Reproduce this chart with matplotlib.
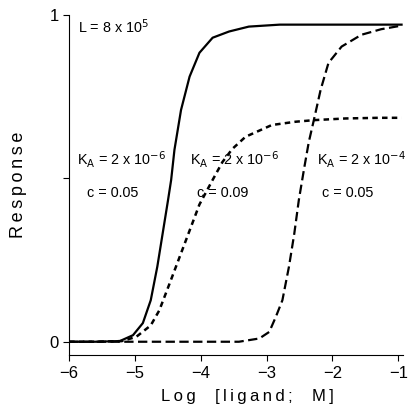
import matplotlib
matplotlib.use("Agg")
import matplotlib.pyplot as plt

plt.rcParams['font.family'] = ['Liberation Sans', 'DejaVu Sans']

# solid curve: L = 8e5, KA = 2e-6, c = 0.05
solid_x = [-6.0, -5.6, -5.23, -5.03, -4.88, -4.76, -4.66, -4.58, -4.50, -4.45, -4.40,
           -4.30, -4.17, -4.02, -3.82, -3.57, -3.27, -2.8, -2.0, -1.5, -0.95]
solid_y = [0.0, 0.0, 0.002, 0.02, 0.057, 0.127, 0.23, 0.33, 0.43, 0.495, 0.587,
           0.709, 0.811, 0.884, 0.93, 0.949, 0.964, 0.97, 0.97, 0.97, 0.97]

# short dash: KA = 2e-6, c = 0.09
short_x = [-6.0, -5.6, -5.2, -4.98, -4.76, -4.63, -4.47, -4.32, -4.17, -4.02, -3.82,
           -3.67, -3.52, -3.32, -2.92, -2.56, -2.27, -1.8, -1.3, -0.95]
short_y = [0.0, 0.0, 0.002, 0.015, 0.05, 0.096, 0.18, 0.26, 0.34, 0.42, 0.495,
           0.55, 0.59, 0.627, 0.663, 0.673, 0.678, 0.683, 0.685, 0.685]

# long dash: KA = 2e-4, c = 0.05
long_x = [-6.0, -4.5, -3.42, -3.11, -2.96, -2.86, -2.76, -2.66, -2.58, -2.51, -2.43,
          -2.36, -2.28, -2.18, -2.06, -1.86, -1.56, -1.26, -0.95]
long_y = [0.0, 0.0, 0.0, 0.01, 0.03, 0.076, 0.127, 0.23, 0.33, 0.434, 0.53,
          0.61, 0.68, 0.77, 0.853, 0.903, 0.939, 0.956, 0.967]

ts = '\u2009'

fig = plt.figure(figsize=(4.09, 4.12), dpi=100)
ax = fig.add_axes([0.169, 0.138, 0.816, 0.826])

ax.plot(solid_x, solid_y, color='black', lw=1.6, solid_joinstyle='round')
ax.plot(short_x, short_y, color='black', lw=1.8, dashes=(2.2, 1.7))
ax.plot(long_x, long_y, color='black', lw=1.6, dashes=(4.2, 2.0))

ax.set_xlim(-6, -0.93)
ax.set_ylim(-0.041, 1.0)
ax.set_xticks([-6, -5, -4, -3, -2, -1])
ax.set_yticks([0, 0.5, 1])
ax.set_yticklabels(['0', '', '1'])
ax.spines['top'].set_visible(False)
ax.spines['right'].set_visible(False)
ax.tick_params(labelsize=12, length=4, width=0.8)

ax.set_xlabel(ts.join('Log  [ligand;  M]'), fontsize=12)
ax.xaxis.set_label_coords(0.533, -0.1)
ax.set_ylabel(ts.join('Response'), fontsize=13, labelpad=16)

fs = 10.4
ax.text(-5.86, 0.963, r'L = 8 x 10$^5$', fontsize=fs, va='center')
ax.text(-5.88, 0.556, r'K$_\mathsf{A}$ = 2 x 10$^{-6}$', fontsize=fs, va='center')
ax.text(-5.73, 0.455, 'c = 0.05', fontsize=fs, va='center')
ax.text(-4.17, 0.556, r'K$_\mathsf{A}$ = 2 x 10$^{-6}$', fontsize=fs, va='center')
ax.text(-4.05, 0.455, 'c = 0.09', fontsize=fs, va='center')
ax.text(-2.23, 0.556, r'K$_\mathsf{A}$ = 2 x 10$^{-4}$', fontsize=fs, va='center')
ax.text(-2.16, 0.455, 'c = 0.05', fontsize=fs, va='center')

fig.savefig('out.png', dpi=100)
